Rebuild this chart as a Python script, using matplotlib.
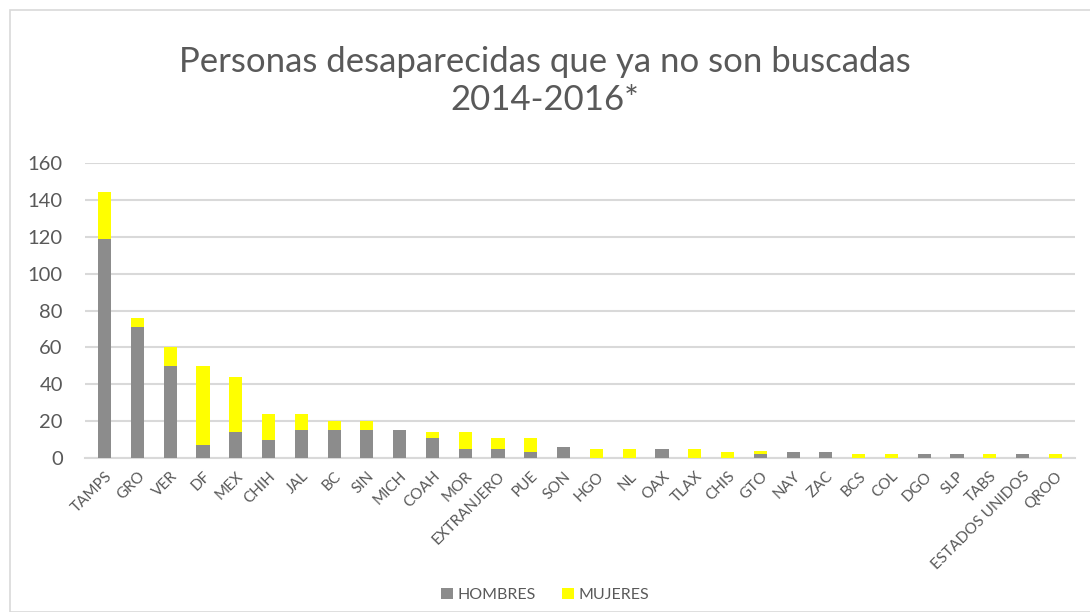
import matplotlib.pyplot as plt
import numpy as np
from matplotlib.patches import Rectangle

plt.rcParams['font.family'] = ['Lato', 'DejaVu Sans']

estados = ['TAMPS', 'GRO', 'VER', 'DF', 'MEX', 'CHIH', 'JAL', 'BC', 'SIN', 'MICH',
           'COAH', 'MOR', 'EXTRANJERO', 'PUE', 'SON', 'HGO', 'NL', 'OAX', 'TLAX',
           'CHIS', 'GTO', 'NAY', 'ZAC', 'BCS', 'COL', 'DGO', 'SLP', 'TABS',
           'ESTADOS UNIDOS', 'QROO']
hombres = [119, 71, 50, 7, 14, 10, 15, 15, 15, 15,
           11, 5, 5, 3, 6, 0, 0, 5, 0,
           0, 2, 3, 3, 0, 0, 2, 2, 0,
           2, 0]
mujeres = [25, 5, 10, 43, 30, 14, 9, 5, 5, 0,
           3, 9, 6, 8, 0, 5, 5, 0, 5,
           3, 2, 0, 0, 2, 2, 0, 0, 2,
           0, 2]

gris = '#8c8c8c'
amarillo = '#ffff00'
texto = '#595959'

fig = plt.figure(figsize=(10.9, 6.12), dpi=100)
fig.patches.append(Rectangle((10 / 1090, 0), 1.0, 1 - 10 / 612, transform=fig.transFigure,
                             fill=False, edgecolor='#d9d9d9', linewidth=1.2))

ax = fig.add_axes([85 / 1090, 1 - 458 / 612, (1075 - 85) / 1090, (458 - 163) / 612])
x = np.arange(len(estados))
ax.bar(x, hombres, width=0.4, color=gris, label='HOMBRES', zorder=3)
ax.bar(x, mujeres, width=0.4, bottom=hombres, color=amarillo, label='MUJERES', zorder=3)

ax.set_xlim(-0.6, len(estados) - 0.4)
ax.set_ylim(0, 160)
ax.set_yticks(range(0, 161, 20))
ax.yaxis.grid(True, color='#d9d9d9', linewidth=1.5, zorder=0)
ax.set_axisbelow(True)
for s in ['top', 'right', 'left']:
    ax.spines[s].set_visible(False)
ax.spines['bottom'].set_color('#d9d9d9')
ax.spines['bottom'].set_linewidth(1.5)
ax.tick_params(axis='y', length=0, labelsize=14.5, labelcolor=texto, pad=16)
ax.tick_params(axis='x', length=0, labelsize=11, labelcolor=texto, pad=8)
ax.set_xticks(x)
ax.set_xticklabels(estados, rotation=45, ha='right', rotation_mode='anchor')

fig.text(0.5, 1 - 81 / 612, 'Personas desaparecidas que ya no son buscadas\n2014-2016*',
         ha='center', va='center', fontsize=25, color=texto, linespacing=1.2)

fig.legend(loc='center', bbox_to_anchor=(0.5, 1 - 595 / 612), ncol=2, frameon=False,
           fontsize=11.5, labelcolor=texto, handlelength=0.75, handleheight=0.75,
           handletextpad=0.3, columnspacing=1.6)

fig.savefig('out.png', dpi=100)
